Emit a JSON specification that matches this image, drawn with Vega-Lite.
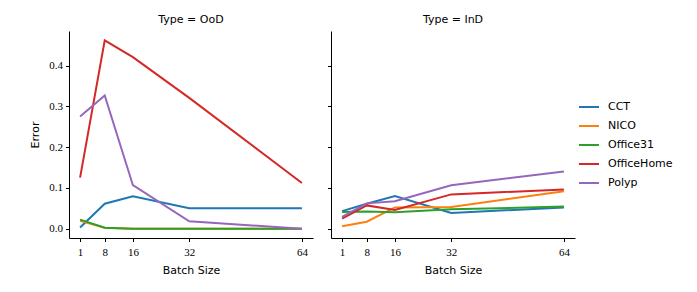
{
  "$schema": "https://vega.github.io/schema/vega-lite/v6.json",
  "background": "white",
  "padding": {"left": 29, "top": 14, "right": 5, "bottom": 5},
  "data": {"values": [
    {"Type": "OoD", "Dataset": "CCT", "Batch": 1, "Error": 0.003},
    {"Type": "OoD", "Dataset": "CCT", "Batch": 8, "Error": 0.061},
    {"Type": "OoD", "Dataset": "CCT", "Batch": 16, "Error": 0.0795},
    {"Type": "OoD", "Dataset": "CCT", "Batch": 32, "Error": 0.05},
    {"Type": "OoD", "Dataset": "CCT", "Batch": 64, "Error": 0.05},
    {"Type": "OoD", "Dataset": "NICO", "Batch": 1, "Error": 0.019},
    {"Type": "OoD", "Dataset": "NICO", "Batch": 8, "Error": 0.002},
    {"Type": "OoD", "Dataset": "NICO", "Batch": 16, "Error": 0.0},
    {"Type": "OoD", "Dataset": "NICO", "Batch": 32, "Error": 0.0},
    {"Type": "OoD", "Dataset": "NICO", "Batch": 64, "Error": 0.0},
    {"Type": "OoD", "Dataset": "Office31", "Batch": 1, "Error": 0.022},
    {"Type": "OoD", "Dataset": "Office31", "Batch": 8, "Error": 0.002},
    {"Type": "OoD", "Dataset": "Office31", "Batch": 16, "Error": 0.0},
    {"Type": "OoD", "Dataset": "Office31", "Batch": 32, "Error": 0.0},
    {"Type": "OoD", "Dataset": "Office31", "Batch": 64, "Error": 0.0},
    {"Type": "OoD", "Dataset": "OfficeHome", "Batch": 1, "Error": 0.125},
    {"Type": "OoD", "Dataset": "OfficeHome", "Batch": 8, "Error": 0.462},
    {"Type": "OoD", "Dataset": "OfficeHome", "Batch": 16, "Error": 0.421},
    {"Type": "OoD", "Dataset": "OfficeHome", "Batch": 32, "Error": 0.321},
    {"Type": "OoD", "Dataset": "OfficeHome", "Batch": 64, "Error": 0.112},
    {"Type": "OoD", "Dataset": "Polyp", "Batch": 1, "Error": 0.275},
    {"Type": "OoD", "Dataset": "Polyp", "Batch": 8, "Error": 0.327},
    {"Type": "OoD", "Dataset": "Polyp", "Batch": 16, "Error": 0.1066},
    {"Type": "OoD", "Dataset": "Polyp", "Batch": 32, "Error": 0.018},
    {"Type": "OoD", "Dataset": "Polyp", "Batch": 64, "Error": 0.0},
    {"Type": "InD", "Dataset": "CCT", "Batch": 1, "Error": 0.043},
    {"Type": "InD", "Dataset": "CCT", "Batch": 8, "Error": 0.061},
    {"Type": "InD", "Dataset": "CCT", "Batch": 16, "Error": 0.08},
    {"Type": "InD", "Dataset": "CCT", "Batch": 32, "Error": 0.0385},
    {"Type": "InD", "Dataset": "CCT", "Batch": 64, "Error": 0.052},
    {"Type": "InD", "Dataset": "NICO", "Batch": 1, "Error": 0.006},
    {"Type": "InD", "Dataset": "NICO", "Batch": 8, "Error": 0.017},
    {"Type": "InD", "Dataset": "NICO", "Batch": 16, "Error": 0.052},
    {"Type": "InD", "Dataset": "NICO", "Batch": 32, "Error": 0.053},
    {"Type": "InD", "Dataset": "NICO", "Batch": 64, "Error": 0.092},
    {"Type": "InD", "Dataset": "Office31", "Batch": 1, "Error": 0.041},
    {"Type": "InD", "Dataset": "Office31", "Batch": 8, "Error": 0.042},
    {"Type": "InD", "Dataset": "Office31", "Batch": 16, "Error": 0.04},
    {"Type": "InD", "Dataset": "Office31", "Batch": 32, "Error": 0.0475},
    {"Type": "InD", "Dataset": "Office31", "Batch": 64, "Error": 0.054},
    {"Type": "InD", "Dataset": "OfficeHome", "Batch": 1, "Error": 0.0246},
    {"Type": "InD", "Dataset": "OfficeHome", "Batch": 8, "Error": 0.057},
    {"Type": "InD", "Dataset": "OfficeHome", "Batch": 16, "Error": 0.046},
    {"Type": "InD", "Dataset": "OfficeHome", "Batch": 32, "Error": 0.084},
    {"Type": "InD", "Dataset": "OfficeHome", "Batch": 64, "Error": 0.096},
    {"Type": "InD", "Dataset": "Polyp", "Batch": 1, "Error": 0.029},
    {"Type": "InD", "Dataset": "Polyp", "Batch": 8, "Error": 0.062},
    {"Type": "InD", "Dataset": "Polyp", "Batch": 16, "Error": 0.067},
    {"Type": "InD", "Dataset": "Polyp", "Batch": 32, "Error": 0.1066},
    {"Type": "InD", "Dataset": "Polyp", "Batch": 64, "Error": 0.14}
  ]},
  "config": {
    "view": {"stroke": null},
    "font": "DejaVu Sans",
    "axis": {
      "grid": false,
      "domainColor": "#000",
      "tickColor": "#000",
      "labelColor": "#000",
      "titleColor": "#000",
      "labelFont": "Liberation Serif",
      "labelFontSize": 11,
      "titleFont": "DejaVu Sans",
      "titleFontSize": 11,
      "titleFontWeight": "normal",
      "tickSize": 3.5,
      "domainWidth": 1,
      "labelPadding": 3
    },
    "axisX": {"labelPadding": 5, "titlePadding": 7},
    "title": {"font": "DejaVu Sans", "fontSize": 11, "fontWeight": "normal", "color": "#000", "offset": 6},
    "legend": {"labelFont": "DejaVu Sans", "labelFontSize": 11, "labelColor": "#000", "symbolType": "stroke", "symbolStrokeWidth": 2, "symbolSize": 400, "rowPadding": 3, "labelOffset": 8}
  },
  "spacing": 14,
  "hconcat": [
    {
      "width": 244,
      "height": 207,
      "title": "Type = OoD",
      "transform": [{"filter": "datum.Type === 'OoD'"}],
      "mark": {"type": "line", "strokeWidth": 2},
      "encoding": {
        "x": {"field": "Batch", "type": "quantitative", "scale": {"domain": [-2.15, 67.15], "nice": false, "zero": false}, "axis": {"values": [1, 8, 16, 32, 64], "title": "Batch Size"}},
        "y": {"field": "Error", "type": "quantitative", "scale": {"domain": [-0.023, 0.485], "nice": false, "zero": false}, "axis": {"values": [0, 0.1, 0.2, 0.3, 0.4], "format": ".1f", "title": "Error", "titlePadding": 8}},
        "color": {"field": "Dataset", "type": "nominal", "scale": {"domain": ["CCT", "NICO", "Office31", "OfficeHome", "Polyp"], "range": ["#1f77b4", "#ff7f0e", "#2ca02c", "#d62728", "#9467bd"]}, "legend": {"title": null, "orient": "none", "legendX": 509, "legendY": 65}}
      }
    },
    {
      "width": 244,
      "height": 207,
      "title": "Type = InD",
      "transform": [{"filter": "datum.Type === 'InD'"}],
      "mark": {"type": "line", "strokeWidth": 2},
      "encoding": {
        "x": {"field": "Batch", "type": "quantitative", "scale": {"domain": [-2.15, 67.15], "nice": false, "zero": false}, "axis": {"values": [1, 8, 16, 32, 64], "title": "Batch Size"}},
        "y": {"field": "Error", "type": "quantitative", "scale": {"domain": [-0.023, 0.485], "nice": false, "zero": false}, "axis": {"values": [0, 0.1, 0.2, 0.3, 0.4], "labels": false, "title": null}},
        "color": {"field": "Dataset", "type": "nominal", "scale": {"domain": ["CCT", "NICO", "Office31", "OfficeHome", "Polyp"], "range": ["#1f77b4", "#ff7f0e", "#2ca02c", "#d62728", "#9467bd"]}, "legend": {"title": null, "orient": "none", "legendX": 509, "legendY": 65}}
      }
    }
  ]
}
